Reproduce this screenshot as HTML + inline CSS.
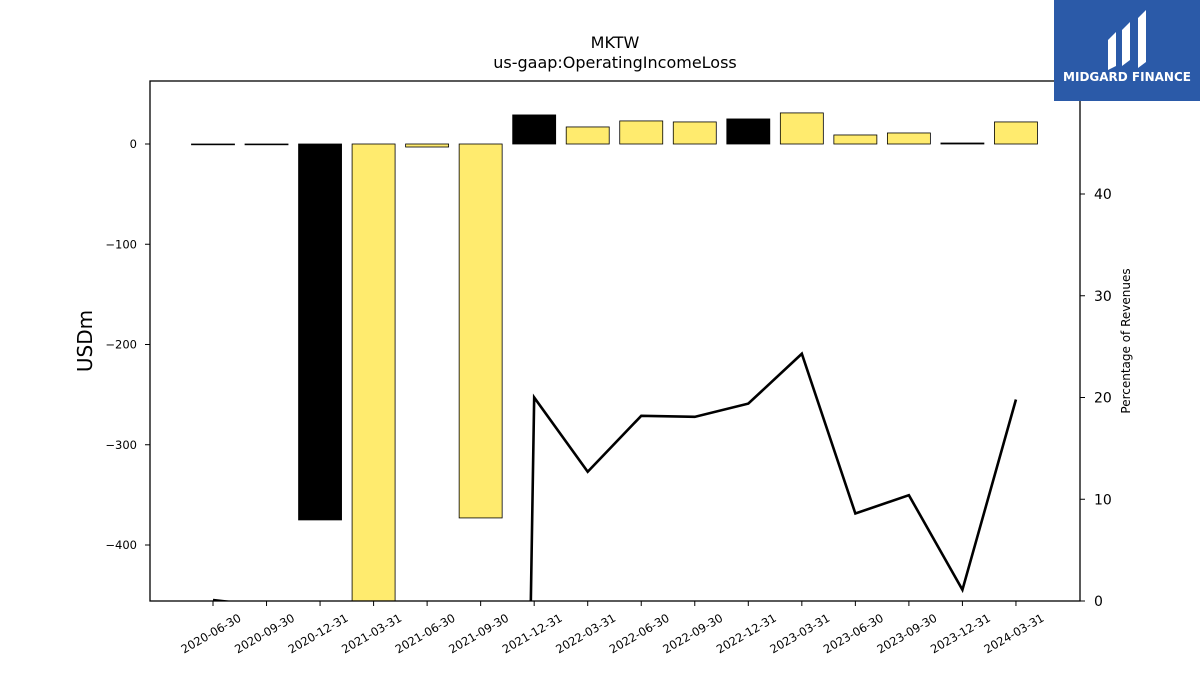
<!DOCTYPE html>
<html><head><meta charset="utf-8"><style>
html,body{margin:0;padding:0;background:#fff;overflow:hidden;font-family:"Liberation Sans","DejaVu Sans",sans-serif}
svg{display:block}
</style></head><body>
<svg width="1200" height="675" viewBox="0 0 1200 675" font-family="DejaVu Sans, Liberation Sans, sans-serif">
<defs><clipPath id="pc"><rect x="150" y="81" width="930" height="520"/></clipPath></defs>
<text x="615" y="48" text-anchor="middle" font-size="16">MKTW</text>
<text x="615" y="68" text-anchor="middle" font-size="16">us-gaap:OperatingIncomeLoss</text>
<g id="bars" clip-path="url(#pc)"></g>
<g id="line" clip-path="url(#pc)"></g>
<rect x="150" y="81" width="930" height="520" fill="none" stroke="#000" stroke-width="1.3"/>
<g id="axes"></g>
<text transform="translate(92,341) rotate(-90)" text-anchor="middle" font-size="20">USDm</text>
<text transform="translate(1130,341) rotate(-90)" text-anchor="middle" font-size="12">Percentage of Revenues</text>
<g>
<rect x="1054" y="0" width="146" height="101" fill="#2b5aa8"/>
<path d="M1108 40 L1116 32 L1116 66 L1108 70 Z M1122 30 L1130 22 L1130 60 L1122 66 Z M1138 18 L1146 10 L1146 62 L1138 68 Z" fill="#fff"/>
<text x="1127" y="81" text-anchor="middle" font-size="12" font-weight="bold" fill="#fff">MIDGARD FINANCE</text>
</g>
</svg>
<script>
const categories=["2020-06-30","2020-09-30","2020-12-31","2021-03-31","2021-06-30","2021-09-30","2021-12-31","2022-03-31","2022-06-30","2022-09-30","2022-12-31","2023-03-31","2023-06-30","2023-09-30","2023-12-31","2024-03-31"];
const barValues=[-0.5,-0.5,-375,-500,-3,-373,29,17,23,22,25,31,9,11,1,22];
const pctValues=[0.1,-0.5,-100,-200,-5,-300,20,12.7,18.2,18.1,19.4,24.3,8.6,10.4,1.1,19.8];
const yTicks=[0,-100,-200,-300,-400];
const y2Ticks=[0,10,20,30,40];
const NS="http://www.w3.org/2000/svg";
const x=i=>213+i*53.53;
const y=v=>144-v*1.0025;
const y2=v=>601-v*10.175;
function mk(t,a,p){const e=document.createElementNS(NS,t);for(const k in a)e.setAttribute(k,a[k]);p.appendChild(e);return e;}
const bars=document.getElementById('bars'),line=document.getElementById('line'),axes=document.getElementById('axes');
barValues.forEach((v,i)=>{const black=categories[i].endsWith('12-31');
const r=mk('rect',{x:x(i)-21.5,y:Math.min(y(v),y(0)),width:43,height:Math.max(Math.abs(y(v)-y(0)),0.8),fill:black?'#000':'#ffeb6e',stroke:'#000','stroke-width':0.8},bars);

});
const pl=mk('polyline',{points:pctValues.map((v,i)=>x(i)+','+y2(v)).join(' '),fill:'none',stroke:'#000','stroke-width':2.6},line);


categories.forEach((c,i)=>{mk('line',{x1:x(i),x2:x(i),y1:601,y2:606,stroke:'#000'},axes);
const t=mk('text',{x:0,y:0,'font-size':11.5,'text-anchor':'middle',transform:`translate(${x(i)},${637}) rotate(-30)`},axes);t.textContent=c;

});
yTicks.forEach(v=>{mk('line',{x1:145,x2:150,y1:y(v),y2:y(v),stroke:'#000'},axes);
const t=mk('text',{x:137,y:y(v)+4,'font-size':11.5,'text-anchor':'end'},axes);t.textContent=v<0?'\u2212'+(-v):v;

});
y2Ticks.forEach(v=>{mk('line',{x1:1080,x2:1085,y1:y2(v),y2:y2(v),stroke:'#000'},axes);
const t=mk('text',{x:1094,y:y2(v)+5,'font-size':14},axes);t.textContent=v;

});
</script>
</body></html>
